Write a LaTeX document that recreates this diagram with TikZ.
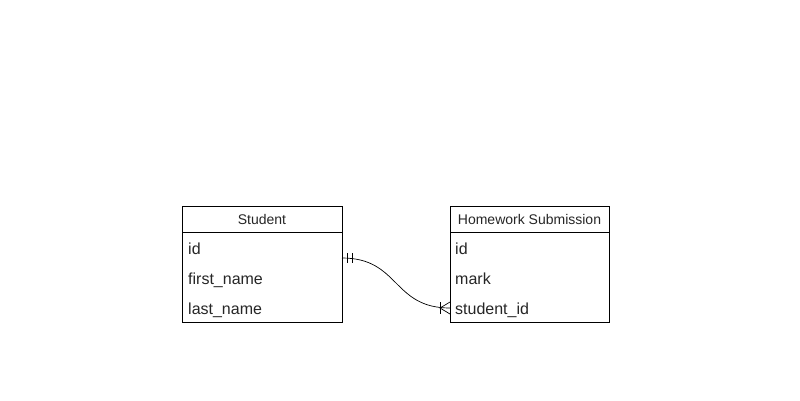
\documentclass[tikz,border=0pt]{standalone}
\usepackage{fontspec}
\setmainfont{Liberation Sans}
\begin{document}
\begin{tikzpicture}[x=1pt,y=-1pt,
  tbl/.style={draw=black,line width=0.8pt,fill=white},
  hdr/.style={font=\fontsize{14}{16}\selectfont,text=black!85,anchor=base,inner sep=0pt},
  row/.style={font=\fontsize{16}{18}\selectfont,text=black!85,anchor=base west,inner sep=0pt},
  conn/.style={draw=black,line width=0.7pt}]
\useasboundingbox[fill=white] (0,0) rectangle (800,400);
% Student table
\draw[tbl] (182,206) rectangle (342,322);
\draw[line width=0.8pt] (182,232) -- (342,232);
\node[hdr] (sh) at (262,224.5) {Student};
\node[row] (s1) at (188,254) {id};
\node[row] (s2) at (188,284) {first\_name};
\node[row] (s3) at (188,314) {last\_name};
% Homework table
\draw[tbl] (450,206) rectangle (609,322);
\draw[line width=0.8pt] (450,232) -- (609,232);
\node[hdr] (hh) at (529.5,224.5) {Homework Submission};
\node[row] (h1) at (455,254) {id};
\node[row] (h2) at (455,284) {mark};
\node[row] (h3) at (455,314) {student\_id};
% connector
\coordinate (a) at (342,258);
\coordinate (b) at (450,308);
\draw[conn] (a) .. controls (400,258) and (392,308) .. (b);
% one-and-only-one
\draw[conn] (347,253) -- (347,263);
\draw[conn] (352,253) -- (352,263);
% one-to-many
\draw[conn] (440,302) -- (440,314);
\draw[conn] (450,302) -- (440,308) -- (450,314);
\end{tikzpicture}
\end{document}
